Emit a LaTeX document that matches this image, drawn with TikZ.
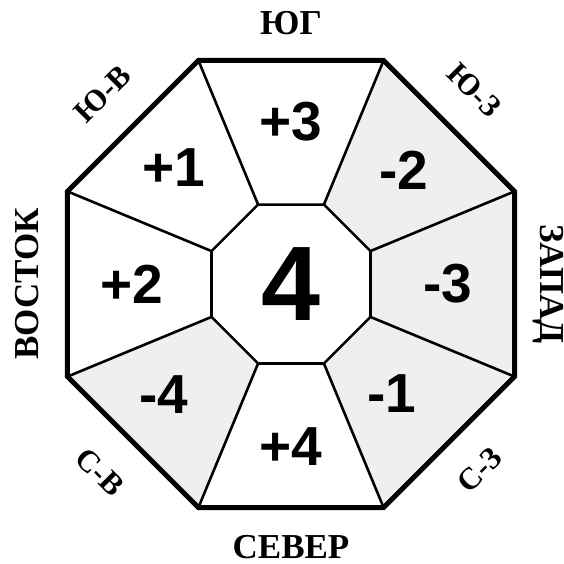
\documentclass[tikz,border=0pt]{standalone}
\usepackage{fontspec}
\setmainfont{Liberation Serif}
\newfontfamily\numfont{Liberation Sans}
\definecolor{sectorgrey}{HTML}{EFEFEF}
\tikzset{
  rim/.style={line width=5pt,line join=miter},
  spoke/.style={line width=2.6pt,line join=miter},
  num/.style={font=\numfont\bfseries\fontsize{55}{55}\selectfont},
  core/.style={font=\numfont\bfseries\fontsize{106}{106}\selectfont},
  side/.style={inner sep=0pt,font=\bfseries\fontsize{35}{35}\selectfont},
  corner/.style={inner sep=0pt,font=\bfseries\fontsize{31}{31}\selectfont}
}

\begin{document}
\begin{tikzpicture}[x=1pt,y=1pt]
  \useasboundingbox (-291,-279) rectangle (273,284);
  % octagon vertices
  \foreach \k in {0,...,7}{
    \coordinate (o\k) at ({22.5+45*\k}:242);
    \coordinate (i\k) at ({22.5+45*\k}:86);
  }
  % sectors with numbers
  \foreach \k/\n/\c/\t/\p in {0/1/sectorgrey/-2/{(113,114)},1/2/white/+3/{(0,162)},
      2/3/white/+1/{(-117,116)},3/4/white/+2/{(-159,0)},4/5/sectorgrey/-4/{(-127,-111)},
      5/6/white/+4/{(0,-163)},6/7/sectorgrey/-1/{(101,-110)},7/0/sectorgrey/-3/{(157,0)}}{
    \fill[fill=\c] (o\k) -- (o\n) -- (i\n) -- (i\k) -- cycle;
    \node[num] (s\k) at \p {\t};
  }
  \foreach \k in {0,...,7}
    \draw[spoke] (o\k) -- (i\k);
  \draw[spoke,fill=white] (i0) -- (i1) -- (i2) -- (i3) -- (i4) -- (i5) -- (i6) -- (i7) -- cycle;
  \draw[rim] (o0) -- (o1) -- (o2) -- (o3) -- (o4) -- (o5) -- (o6) -- (o7) -- cycle;
  \node[core] (centre) at (0,0) {4};
  % directions
  \node[side] (yug) at (0,261) {ЮГ};
  \node[side] (sever) at (0,-263) {СЕВЕР};
  \node[side,rotate=90] (vostok) at (-264,0) {ВОСТОК};
  \node[side,rotate=-90] (zapad) at (257,0) {ЗАПАД};
  \node[corner,rotate=45] (yv) at (-188,190) {Ю-В};
  \node[corner,rotate=-45] (yz) at (183,194) {Ю-З};
  \node[corner,rotate=-45] (sv) at (-191,-188) {С-В};
  \node[corner,rotate=45] (sz) at (189,-186) {С-З};
\end{tikzpicture}
\end{document}
